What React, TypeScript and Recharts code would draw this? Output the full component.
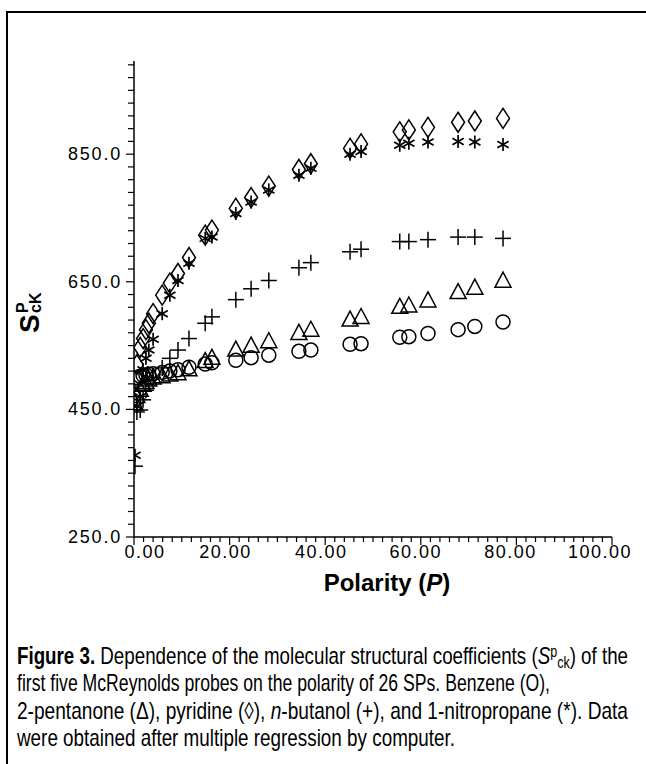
import React from 'react';
import { ScatterChart, Scatter, XAxis, YAxis } from 'recharts';

// Polarity (P) of the 26 stationary phases
const polarity = [0.2, 0.6, 1.3, 1.9, 2.5, 3.1, 4.0, 5.9, 7.5, 9.2, 11.5, 14.9, 16.3, 21.3, 24.5, 28.2, 34.5, 37.0, 45.2, 47.5, 55.6, 57.5, 61.5, 67.8, 71.3, 77.2];
// S^P_cK for each probe
const benzene = [499, 500, 502, 503, 504, 505, 506, 508, 510, 512, 516, 521, 523, 527, 531, 535, 541, 543, 552, 553, 563, 564, 569, 575, 580, 587];
const pentanone = [459, 470, 480, 488, 492, 496, 499, 501, 504, 506, 512, 525, 530, 543, 549, 556, 569, 574, 590, 594, 610, 612, 620, 633, 640, 651];
const pyridine = [470, 520, 547, 561, 575, 585, 600, 629, 648, 663, 688, 723, 731, 765, 782, 800, 826, 835, 859, 866, 885, 888, 892, 900, 902, 906];
const butanol = [361, 446, 449, 465, 480, 490, 500, 515, 530, 543, 561, 585, 595, 622, 639, 652, 672, 680, 697, 701, 713, 713, 716, 720, 720, 718];
const nitropropane = [378, 455, 470, 512, 530, 543, 560, 600, 629, 652, 679, 718, 720, 757, 775, 794, 817, 828, 850, 854, 864, 867, 869, 870, 869, 865];

const xTicks = Array.from({ length: 51 }, (_, i) => i * 2);
const yTicks = Array.from({ length: 38 }, (_, i) => 250 + i * 20);
const xLabelTicks = [0, 20, 40, 60, 80, 100];
const yLabelTicks = [250, 450, 650, 850];
const xLabelShift: Record<number, number> = { 0: 11, 20: -4, 40: -4, 60: -5, 80: -6, 100: -12 };

const toPoints = (vals: number[]) => polarity.map((p, i) => ({ x: p, y: vals[i] }));

const SW = 1.5;
const CircleShape = (p: any) => <circle cx={p.cx} cy={p.cy} r={7} fill="none" stroke="#000" strokeWidth={SW} />;
const TriangleShape = (p: any) => (
  <polygon points={`${p.cx},${p.cy - 9} ${p.cx - 8},${p.cy + 6} ${p.cx + 8},${p.cy + 6}`} fill="none" stroke="#000" strokeWidth={SW} />
);
const DiamondShape = (p: any) => (
  <polygon points={`${p.cx},${p.cy - 10} ${p.cx + 6.5},${p.cy} ${p.cx},${p.cy + 10} ${p.cx - 6.5},${p.cy}`} fill="none" stroke="#000" strokeWidth={SW} />
);
const PlusShape = (p: any) => (
  <g stroke="#000" strokeWidth={SW}>
    <line x1={p.cx - 8} y1={p.cy} x2={p.cx + 8} y2={p.cy} />
    <line x1={p.cx} y1={p.cy - 8} x2={p.cx} y2={p.cy + 8} />
  </g>
);
const StarShape = (p: any) => {
  const r = 6.5;
  const dx = r * Math.cos(Math.PI / 6);
  const dy = r * Math.sin(Math.PI / 6);
  return (
    <g stroke="#000" strokeWidth={1.7}>
      <line x1={p.cx} y1={p.cy - r} x2={p.cx} y2={p.cy + r} />
      <line x1={p.cx - dx} y1={p.cy - dy} x2={p.cx + dx} y2={p.cy + dy} />
      <line x1={p.cx - dx} y1={p.cy + dy} x2={p.cx + dx} y2={p.cy - dy} />
    </g>
  );
};

const tickFont = '"Liberation Sans", Arial, sans-serif';

const XTick = (props: any) => {
  const { x, y, payload } = props;
  const v = payload.value;
  const major = xLabelTicks.includes(v);
  return (
    <g>
      <line x1={x} y1={y} x2={x} y2={y + (major ? 8 : 5)} stroke="#000" strokeWidth={1.2} />
      {major && (
        <text x={x + (xLabelShift[v] || 0)} y={y + 21} textAnchor="middle" fontFamily={tickFont} fontSize={18} letterSpacing={1.5} fill="#000">
          {v.toFixed(2)}
        </text>
      )}
    </g>
  );
};

const YTick = (props: any) => {
  const { x, y, payload } = props;
  const v = payload.value;
  const major = yLabelTicks.includes(v);
  return (
    <g>
      <line x1={x} y1={y} x2={x - (major ? 8 : 6)} y2={y} stroke="#000" strokeWidth={1.2} />
      {major && (
        <text x={x - 12} y={y + 6} textAnchor="end" fontFamily={tickFont} fontSize={18} letterSpacing={1.8} fill="#000">
          {v.toFixed(1)}
        </text>
      )}
    </g>
  );
};

const capFont = '"Liberation Sans Narrow", "Arial Narrow", "Liberation Sans", Arial, sans-serif';

export default function App() {
  return (
    <div style={{ position: 'absolute', left: 0, top: 0, width: 646, height: 764, background: '#fff', overflow: 'hidden' }}>
      <div style={{ position: 'absolute', left: 0, top: 0 }}>
        <ScatterChart width={646} height={600} margin={{ top: 61, right: 34, bottom: 33, left: 74 }}>
          <XAxis
            type="number"
            dataKey="x"
            domain={[0, 100]}
            ticks={xTicks}
            interval={0}
            tickLine={false}
            tickSize={0}
            tickMargin={0}
            tick={<XTick />}
            height={30}
            axisLine={{ stroke: '#000', strokeWidth: 1.5 }}
            allowDataOverflow
          />
          <YAxis
            type="number"
            dataKey="y"
            domain={[250, 996]}
            ticks={yTicks}
            interval={0}
            tickLine={false}
            tickSize={0}
            tickMargin={0}
            tick={<YTick />}
            width={60}
            axisLine={{ stroke: '#000', strokeWidth: 1.5 }}
            allowDataOverflow
          />
          <Scatter data={toPoints(benzene)} shape={CircleShape} isAnimationActive={false} />
          <Scatter data={toPoints(pentanone)} shape={TriangleShape} isAnimationActive={false} />
          <Scatter data={toPoints(butanol)} shape={PlusShape} isAnimationActive={false} />
          <Scatter data={toPoints(nitropropane)} shape={StarShape} isAnimationActive={false} />
          <Scatter data={toPoints(pyridine)} shape={DiamondShape} isAnimationActive={false} />
        </ScatterChart>
      </div>
      <svg width={646} height={764} style={{ position: 'absolute', left: 0, top: 0, pointerEvents: 'none' }}>
        <line x1={7} y1={12} x2={646} y2={12} stroke="#000" strokeWidth={2} />
        <line x1={7} y1={11} x2={7} y2={764} stroke="#000" strokeWidth={2} />
        {/* Y axis title */}
        <g transform="translate(39, 333) rotate(-90)" fontFamily="Arial, 'Liberation Sans', sans-serif" fontWeight="bold" fill="#000">
          <text x={0} y={0} fontSize={28}>S</text>
          <text x={20} y={-11} fontSize={16}>P</text>
          <text x={20} y={2} fontSize={16}>cK</text>
        </g>
        {/* X axis title */}
        <text x={387} y={591} textAnchor="middle" fontFamily="Arial, 'Liberation Sans', sans-serif" fontWeight="bold" fontSize={24} fill="#000">
          {'Polarity ('}
          <tspan fontStyle="italic">P</tspan>
          {')'}
        </text>
        {/* Caption */}
        <g fontFamily={capFont} fontSize={24} fill="#000">
          <text x={17} y={664} textLength={611} lengthAdjust="spacingAndGlyphs">
            <tspan fontWeight="bold">{'Figure 3.'}</tspan>
            {' Dependence of the molecular structural coefficients ('}
            <tspan fontStyle="italic">S</tspan>
            <tspan dy={-7} fontSize={16}>p</tspan>
            <tspan dy={11} fontSize={16}>ck</tspan>
            <tspan dy={-4}>{') of the'}</tspan>
          </text>
          <text x={17} y={691} textLength={533} lengthAdjust="spacingAndGlyphs">
            {'first five McReynolds probes on the polarity of 26 SPs. Benzene (O),'}
          </text>
          <text x={17} y={719} textLength={611} lengthAdjust="spacingAndGlyphs">
            {'2-pentanone (Δ), pyridine (◊), '}
            <tspan fontStyle="italic">n</tspan>
            {'-butanol (+), and 1-nitropropane (*). Data'}
          </text>
          <text x={17} y={746} textLength={438} lengthAdjust="spacingAndGlyphs">
            {'were obtained after multiple regression by computer.'}
          </text>
        </g>
      </svg>
    </div>
  );
}
